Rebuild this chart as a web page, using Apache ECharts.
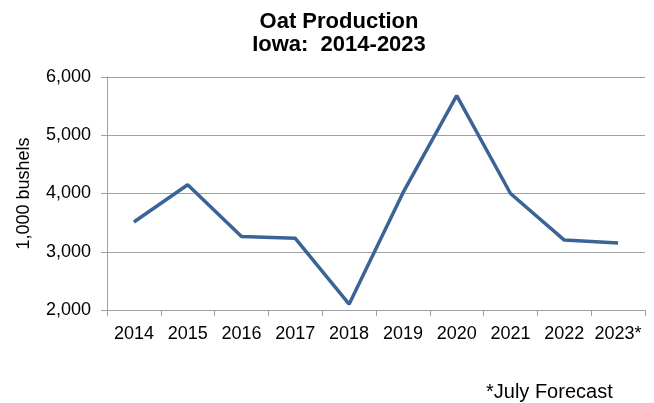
<!DOCTYPE html>
<html lang="en">
<head>
    <meta charset="UTF-8">
    <title>Oat Production</title>
    <style>
        html, body { margin: 0; padding: 0; background: #fff; }
        #main { width: 654px; height: 403px; }
    </style>
</head>
<body>
<div id="main"></div>
<script src="https://cdn.jsdelivr.net/npm/echarts@6/dist/echarts.min.js"></script>
<script>
    // 数据
    const years = ['2014', '2015', '2016', '2017', '2018', '2019', '2020', '2021', '2022', '2023*'];
    const production = [3510, 4150, 3260, 3230, 2100, 4010, 5680, 4000, 3200, 3150];
    const yTicks = [2000, 3000, 4000, 5000, 6000];

    const font = '"Liberation Sans", Arial, sans-serif';
    const gray = '#a0a0a0';

    let myChart = echarts.init(document.getElementById('main'));

    let option = {
        animation: false,
        title: [
            {
                text: 'Oat Production\nIowa:  2014-2023',
                left: 334,
                top: 5,
                textAlign: 'center',
                textStyle: {
                    fontFamily: font,
                    fontSize: 22,
                    fontWeight: 'bold',
                    color: '#000',
                    lineHeight: 23
                }
            },
            {
                text: '*July Forecast',
                left: 481,
                top: 377,
                textStyle: {
                    fontFamily: font,
                    fontSize: 20,
                    fontWeight: 'normal',
                    color: '#000'
                }
            }
        ],
        grid: {
            left: 107,
            right: 9,
            top: 77,
            bottom: 93
        },
        xAxis: {
            type: 'category',
            data: years,
            boundaryGap: true,
            axisLine: { lineStyle: { color: gray, width: 1 } },
            axisTick: { show: true, length: 6, interval: 0, lineStyle: { color: gray } },
            axisLabel: {
                interval: 0,
                hideOverlap: false,
                margin: 15,
                fontFamily: font,
                fontSize: 18,
                color: '#000'
            }
        },
        yAxis: {
            type: 'value',
            min: yTicks[0],
            max: yTicks[yTicks.length - 1],
            interval: 1000,
            name: '1,000 bushels',
            nameLocation: 'middle',
            nameRotate: 90,
            nameGap: 74,
            nameTextStyle: {
                fontFamily: font,
                fontSize: 18,
                color: '#000'
            },
            axisLine: { show: true, lineStyle: { color: gray, width: 1 } },
            axisTick: { show: true, length: 6, lineStyle: { color: gray } },
            splitLine: { lineStyle: { color: gray, width: 1 } },
            axisLabel: {
                margin: 16,
                fontFamily: font,
                fontSize: 18,
                color: '#000',
                formatter: v => v.toLocaleString('en-US')
            }
        },
        series: [
            {
                type: 'line',
                data: production,
                symbol: 'none',
                lineStyle: { color: '#3b6496', width: 3.5 }
            }
        ]
    };

    myChart.setOption(option);
</script>
</body>
</html>
